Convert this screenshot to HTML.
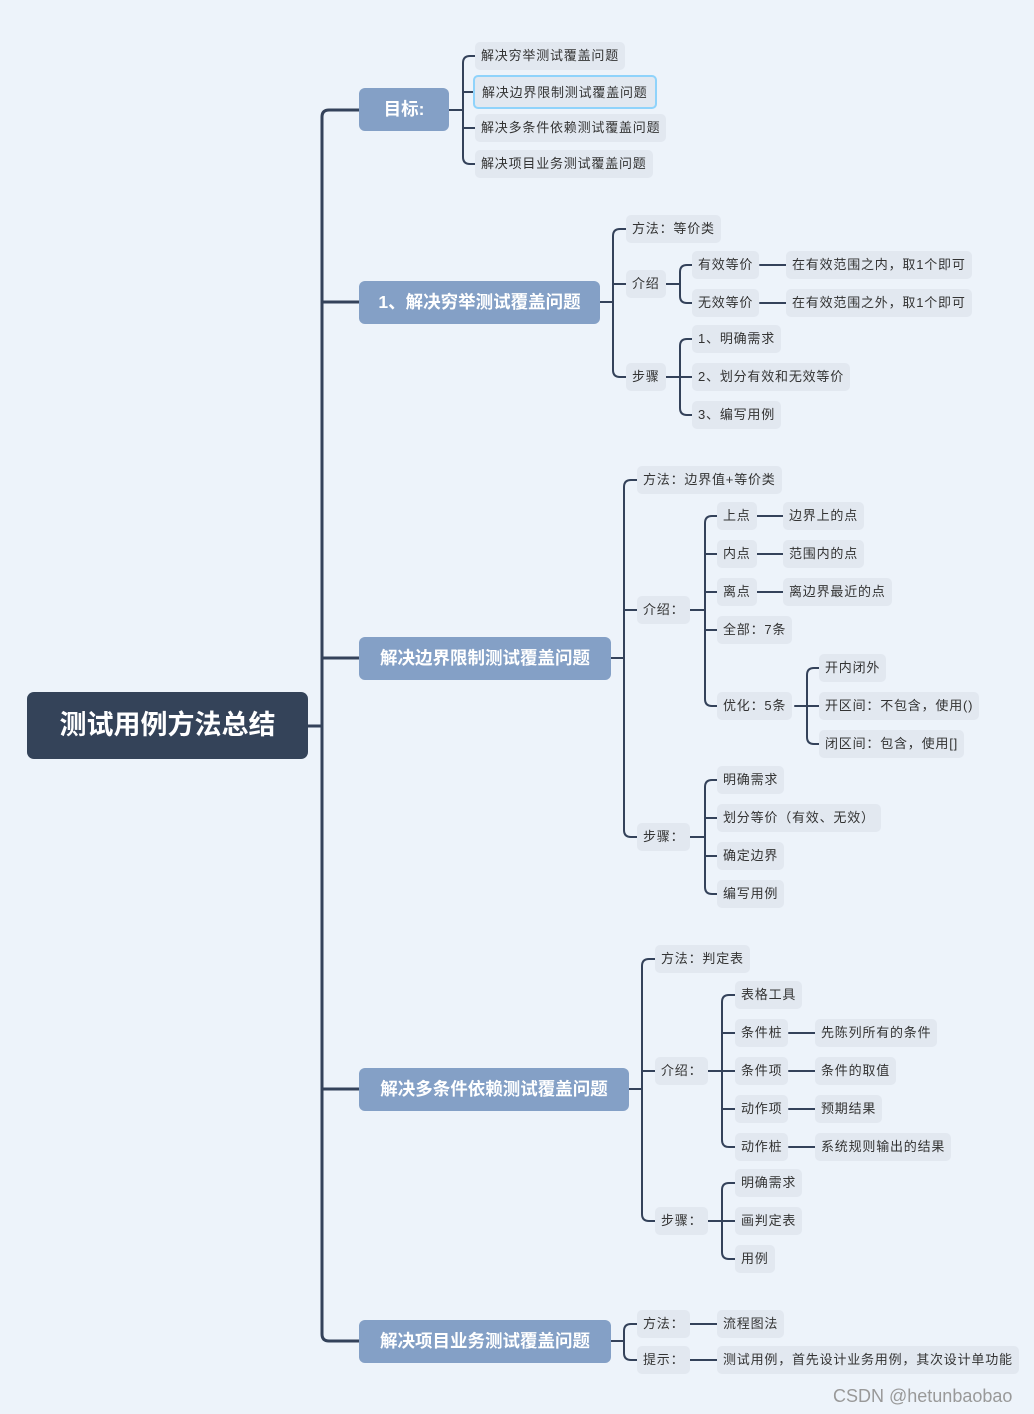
<!DOCTYPE html>
<html><head><meta charset="utf-8"><style>
body{margin:0;width:1034px;height:1414px;background:#edf3fa;position:relative;overflow:hidden;font-family:"Liberation Sans","Noto Sans CJK SC",sans-serif}
.n{position:absolute;height:28px;line-height:28px;padding:0 6px;border-radius:5px;background:#e2e8f0;font-size:13px;letter-spacing:0.8px;color:#333;white-space:nowrap;box-sizing:border-box}
.m{position:absolute;height:43px;line-height:43px;border-radius:6px;background:#84a0c6;color:#fff;font-weight:bold;font-size:17.5px;text-align:center;white-space:nowrap}
.r{position:absolute;left:27px;top:692px;width:281px;height:67px;line-height:67px;border-radius:7px;background:#344359;color:#fff;font-weight:bold;font-size:27px;text-align:center}
svg{position:absolute;left:0;top:0}
</style></head><body>
<svg id="s" width="1034" height="1414"></svg>
<div class="r">测试用例方法总结</div>
<div class="m" style="left:359px;top:88px;width:90px">目标:</div>
<div class="m" style="left:359px;top:281px;width:241px">1、解决穷举测试覆盖问题</div>
<div class="m" style="left:359px;top:637px;width:252px">解决边界限制测试覆盖问题</div>
<div class="m" style="left:359px;top:1068px;width:270px">解决多条件依赖测试覆盖问题</div>
<div class="m" style="left:359px;top:1320px;width:252px">解决项目业务测试覆盖问题</div>

<div class="n" style="left:475px;top:42px">解决穷举测试覆盖问题</div>
<div class="n" style="left:473px;top:75px;height:34px;line-height:32px;border:2px solid #8fd3fb;padding:0 7px">解决边界限制测试覆盖问题</div>
<div class="n" style="left:475px;top:114px">解决多条件依赖测试覆盖问题</div>
<div class="n" style="left:475px;top:150px">解决项目业务测试覆盖问题</div>

<div class="n" style="left:626px;top:215px">方法：等价类</div>
<div class="n" style="left:626px;top:270px">介绍</div>
<div class="n" style="left:626px;top:363px">步骤</div>
<div class="n" style="left:692px;top:251px">有效等价</div>
<div class="n" style="left:692px;top:289px">无效等价</div>
<div class="n" style="left:786px;top:251px">在有效范围之内，取1个即可</div>
<div class="n" style="left:786px;top:289px">在有效范围之外，取1个即可</div>
<div class="n" style="left:692px;top:325px">1、明确需求</div>
<div class="n" style="left:692px;top:363px">2、划分有效和无效等价</div>
<div class="n" style="left:692px;top:401px">3、编写用例</div>

<div class="n" style="left:637px;top:466px">方法：边界值+等价类</div>
<div class="n" style="left:637px;top:596px">介绍：</div>
<div class="n" style="left:637px;top:823px">步骤：</div>
<div class="n" style="left:717px;top:502px">上点</div>
<div class="n" style="left:717px;top:540px">内点</div>
<div class="n" style="left:717px;top:578px">离点</div>
<div class="n" style="left:783px;top:502px">边界上的点</div>
<div class="n" style="left:783px;top:540px">范围内的点</div>
<div class="n" style="left:783px;top:578px">离边界最近的点</div>
<div class="n" style="left:717px;top:616px">全部：7条</div>
<div class="n" style="left:717px;top:692px">优化：5条</div>
<div class="n" style="left:819px;top:654px">开内闭外</div>
<div class="n" style="left:819px;top:692px">开区间：不包含，使用()</div>
<div class="n" style="left:819px;top:730px">闭区间：包含，使用[]</div>
<div class="n" style="left:717px;top:766px">明确需求</div>
<div class="n" style="left:717px;top:804px">划分等价（有效、无效）</div>
<div class="n" style="left:717px;top:842px">确定边界</div>
<div class="n" style="left:717px;top:880px">编写用例</div>

<div class="n" style="left:655px;top:945px">方法：判定表</div>
<div class="n" style="left:655px;top:1057px">介绍：</div>
<div class="n" style="left:655px;top:1207px">步骤：</div>
<div class="n" style="left:735px;top:981px">表格工具</div>
<div class="n" style="left:735px;top:1019px">条件桩</div>
<div class="n" style="left:735px;top:1057px">条件项</div>
<div class="n" style="left:735px;top:1095px">动作项</div>
<div class="n" style="left:735px;top:1133px">动作桩</div>
<div class="n" style="left:815px;top:1019px">先陈列所有的条件</div>
<div class="n" style="left:815px;top:1057px">条件的取值</div>
<div class="n" style="left:815px;top:1095px">预期结果</div>
<div class="n" style="left:815px;top:1133px">系统规则输出的结果</div>
<div class="n" style="left:735px;top:1169px">明确需求</div>
<div class="n" style="left:735px;top:1207px">画判定表</div>
<div class="n" style="left:735px;top:1245px">用例</div>

<div class="n" style="left:637px;top:1310px">方法：</div>
<div class="n" style="left:637px;top:1346px">提示：</div>
<div class="n" style="left:717px;top:1310px">流程图法</div>
<div class="n" style="left:717px;top:1346px">测试用例，首先设计业务用例，其次设计单功能</div>

<div style="position:absolute;left:833px;top:1386px;font-size:18px;color:#999">CSDN @hetunbaobao</div>
<script>
var s=document.getElementById('s'),P='';
function L(d,w){P+='<path d="'+d+'" fill="none" stroke="#34425a" stroke-width="'+(w||2)+'" stroke-linecap="round"/>';}
function B(px,py,sx,cx,cys,w){var r=7;L('M'+px+' '+py+'H'+sx,w);
 var t=Math.min.apply(0,cys),b=Math.max.apply(0,cys);
 if(cys.length==1){L('M'+sx+' '+py+'V'+cys[0]+'H'+cx,w);return;}
 L('M'+cx+' '+t+'H'+(sx+r)+'Q'+sx+' '+t+' '+sx+' '+(t+r)+'V'+(b-r)+'Q'+sx+' '+b+' '+(sx+r)+' '+b+'H'+cx,w);
 cys.forEach(function(c){if(c!=t&&c!=b)L('M'+sx+' '+c+'H'+cx,w);});}
function H(x1,x2,y){L('M'+x1+' '+y+'H'+x2);}
B(308,726,322,359,[110,302,658,1089,1341],3);
B(449,110,463,475,[56,92,128,164]);
B(600,302,613,626,[229,284,377]);
B(666,284,680,692,[265,303]);H(760,786,265);H(760,786,303);
B(666,377,680,692,[339,377,415]);
B(611,658,624,637,[480,610,837]);
B(690,610,705,717,[516,554,592,630,706]);H(757,783,516);H(757,783,554);H(757,783,592);
B(795,706,807,819,[668,706,744]);
B(690,837,705,717,[780,818,856,894]);
B(629,1089,642,655,[959,1071,1221]);
B(708,1071,722,735,[995,1033,1071,1109,1147]);
[1033,1071,1109,1147].forEach(function(y){H(789,815,y);});
B(708,1221,722,735,[1183,1221,1259]);
B(611,1341,624,637,[1324,1360]);H(690,717,1324);H(690,717,1360);
s.innerHTML=P;
</script>
</body></html>
